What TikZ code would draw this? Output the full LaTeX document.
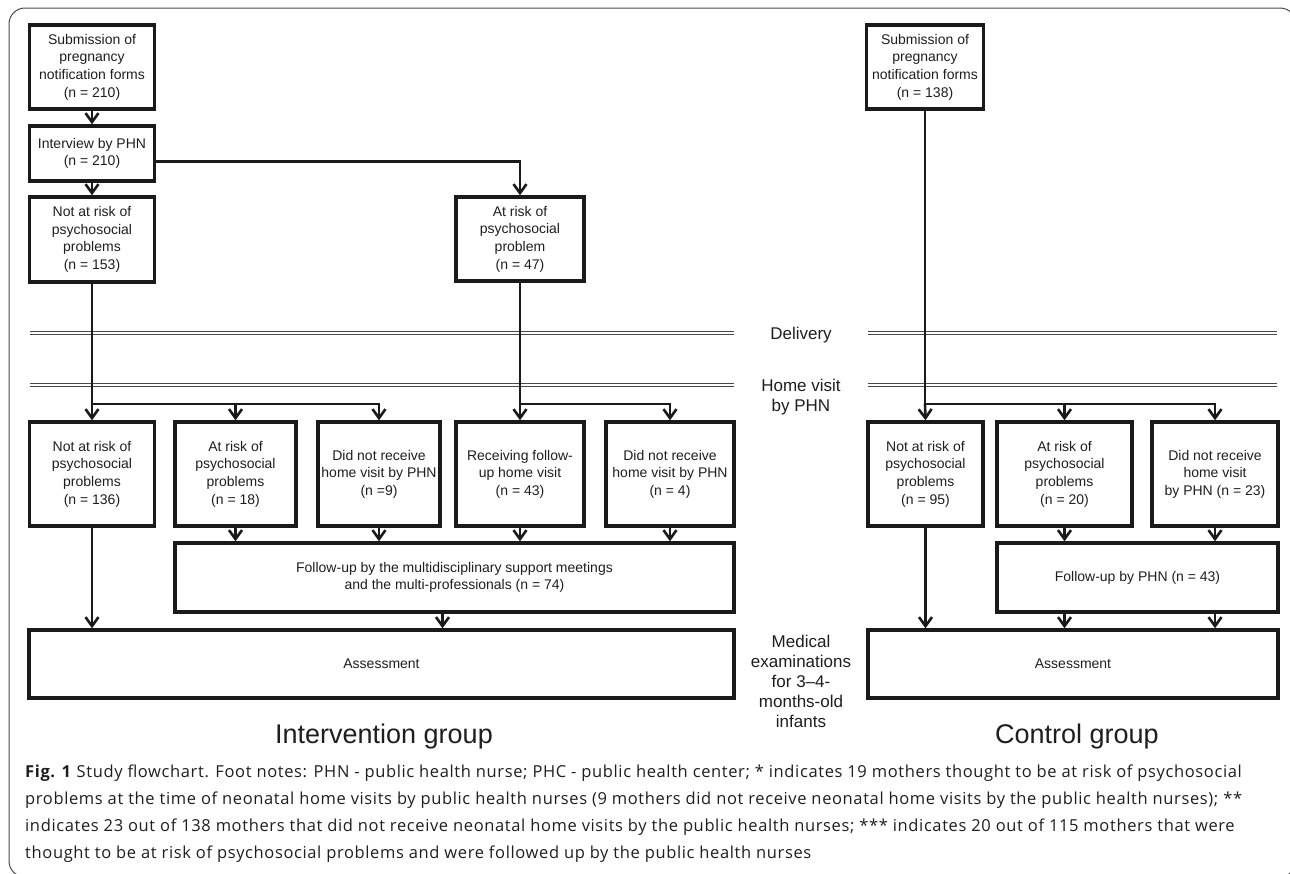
\documentclass[tikz,border=0pt]{standalone}
\usepackage{fontspec}
\setmainfont{Liberation Sans}
\newfontfamily\capfont[LetterSpace=3.8]{Open Sans}
\usetikzlibrary{arrows.meta}
\definecolor{ink}{HTML}{1A1A1A}
\definecolor{txt}{HTML}{1E1E1E}
\begin{document}
\begin{tikzpicture}[x=1pt, y=-1pt,
  box/.style={draw=ink, line width=3.4pt, text=txt, align=center, inner sep=0pt,
    font=\fontsize{14}{17.6}\selectfont},
  lbl/.style={text=txt, align=center, inner sep=0pt, font=\fontsize{17}{20}\selectfont},
  grp/.style={text=txt, inner sep=0pt, font=\fontsize{27}{30}\selectfont},
  conn/.style={draw=ink, line width=2.6pt},
  arr/.style={conn, -{Straight Barb[length=9pt, width=13pt]}},
  sep/.style={draw=ink!80, line width=1.1pt, double=white, double distance=2pt}]
\clip (0,0) rectangle (1290,873);
% outer frame
\draw[ink!80, line width=1pt, rounded corners=16pt] (9,8) rectangle (1296,877);
% intervention group: pregnancy
\node[box, minimum width=125, minimum height=84] (isub) at (92,67) {Submission of\\pregnancy\\notification forms\\(n = 210)};
\node[box, minimum width=125, minimum height=55] (iint) at (92,153.5) {Interview by PHN\\(n = 210)};
\node[box, minimum width=125, minimum height=85] (inorisk) at (92,239.5) {Not at risk of\\psychosocial\\problems\\(n = 153)};
\node[box, minimum width=128, minimum height=84] (irisk) at (520,239) {At risk of\\psychosocial\\problem\\(n = 47)};
% control group: pregnancy
\node[box, minimum width=117, minimum height=84] (csub) at (925,67) {Submission of\\pregnancy\\notification forms\\(n = 138)};
% time points
\draw[sep] (30,333) -- (734,333);
\draw[sep] (868,333) -- (1277,333);
\draw[sep] (30,385) -- (734,385);
\draw[sep] (868,385) -- (1277,385);
\node[lbl] (tdel) at (801,335) {Delivery};
\node[lbl] (thome) at (801,397) {Home visit\\by PHN};
\node[lbl] (tmed) at (801,681) {Medical\\examinations\\for 3–4-\\months-old\\infants};
% home visit results
\node[box, minimum width=125, minimum height=104] (ia) at (92,474) {Not at risk of\\psychosocial\\problems\\(n = 136)};
\node[box, minimum width=121, minimum height=104] (ib) at (235.5,474) {At risk of\\psychosocial\\problems\\(n = 18)};
\node[box, minimum width=122, minimum height=104] (ic) at (379,474) {Did not receive\\home visit by PHN\\(n =9)};
\node[box, minimum width=128, minimum height=104] (id) at (520,474) {Receiving follow-\\up home visit\\(n = 43)};
\node[box, minimum width=128, minimum height=104] (ie) at (670,474) {Did not receive\\home visit by PHN\\(n = 4)};
\node[box, minimum width=115, minimum height=104] (cf) at (925.5,474) {Not at risk of\\psychosocial\\problems\\(n = 95)};
\node[box, minimum width=135, minimum height=104] (cg) at (1064.5,474) {At risk of\\psychosocial\\problems\\(n = 20)};
\node[box, minimum width=126, minimum height=104] (ch) at (1215,474) {Did not receive\\home visit\\by PHN (n = 23)};
% follow-up
\node[box, minimum width=559, minimum height=69] (ifu) at (454.5,577.5) {Follow-up by the multidisciplinary support meetings\\and the multi-professionals (n = 74)};
\node[box, minimum width=281, minimum height=69] (cfu) at (1137.5,577.5) {Follow-up by PHN (n = 43)};
% assessment
\node[box, minimum width=705, minimum height=68] (ias) at (381.5,664) {Assessment};
\node[box, minimum width=410, minimum height=68] (cas) at (1073,664) {Assessment};
\node[grp] (igrp) at (384,737) {Intervention group};
\node[grp] (cgrp) at (1077,737) {Control group};
% connectors
\draw[arr] (isub) -- (iint);
\draw[arr] (iint) -- (inorisk);
\draw[arr] ([yshift=-8pt]iint.east) -| (irisk.north);
\coordinate (ibr) at (92,404);
\coordinate (rbr) at (520,404);
\coordinate (cbr) at (925,404);
\draw[conn] (inorisk.south) -- (ibr);
\draw[arr] (ibr) -- (ia.north);
\draw[arr] (ibr) -| (ib.north);
\draw[arr] (ibr) -| (ic.north);
\draw[conn] (irisk.south) -- (rbr);
\draw[arr] (rbr) -- (id.north);
\draw[arr] (rbr) -| (ie.north);
\draw[conn] (csub.south) -- (cbr);
\draw[arr] (cbr) -- (cf.north);
\draw[arr] (cbr) -| (cg.north);
\draw[arr] (cbr) -| (ch.north);
\foreach \n in {ib,ic,id,ie}
  \draw[arr] (\n.south) -- (\n.south |- ifu.north);
\foreach \n in {cg,ch} {
  \draw[arr] (\n.south) -- (\n.south |- cfu.north);
  \draw[arr] (\n.south |- cfu.south) -- (\n.south |- cas.north);
}
\draw[arr] (ia.south) -- (ia.south |- ias.north);
\draw[arr] (cf.south) -- (cf.south |- cas.north);
\draw[arr] ([xshift=-12pt]ifu.south) -- ([xshift=-12pt]ifu.south |- ias.north);
% caption
\node[anchor=north west, align=left, inner sep=0pt, text=txt,
  font=\capfont\fontsize{16.5}{27}\selectfont] (cap) at (25,765)
  {\textbf{Fig. 1} Study flowchart. Foot notes: PHN - public health nurse; PHC - public health center; * indicates 19 mothers thought to be at risk of psychosocial\\
  problems at the time of neonatal home visits by public health nurses (9 mothers did not receive neonatal home visits by the public health nurses); **\\
  indicates 23 out of 138 mothers that did not receive neonatal home visits by the public health nurses; *** indicates 20 out of 115 mothers that were\\
  thought to be at risk of psychosocial problems and were followed up by the public health nurses};
\end{tikzpicture}
\end{document}
